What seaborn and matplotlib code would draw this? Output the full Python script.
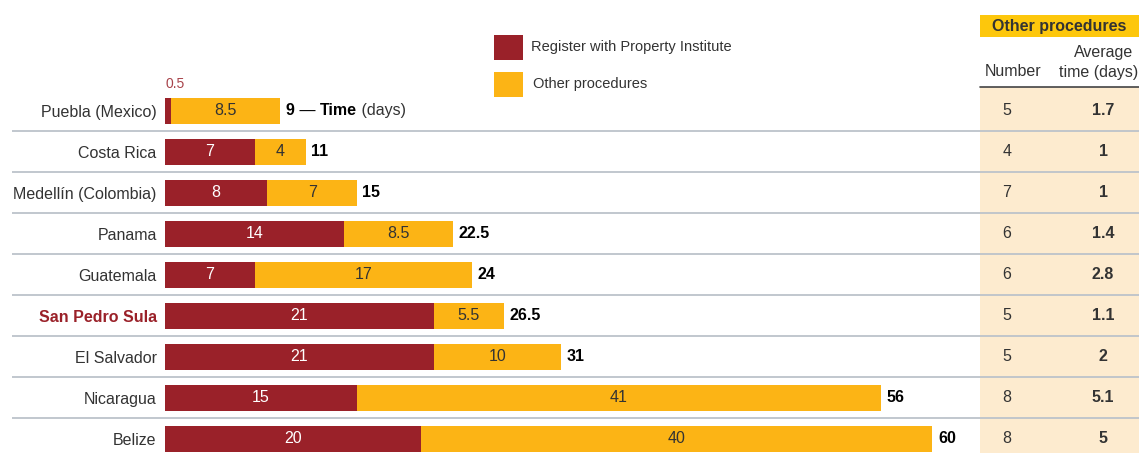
import pandas as pd
import seaborn as sns
import matplotlib.pyplot as plt
from matplotlib.patches import Rectangle

# Data
countries = ['Puebla (Mexico)', 'Costa Rica', 'Medellín (Colombia)', 'Panama', 'Guatemala',
             'San Pedro Sula', 'El Salvador', 'Nicaragua', 'Belize']
register_days = [0.5, 7, 8, 14, 7, 21, 21, 15, 20]
other_days = [8.5, 4, 7, 8.5, 17, 5.5, 10, 41, 40]
total_labels = ['9', '11', '15', '22.5', '24', '26.5', '31', '56', '60']
other_number = ['5', '4', '7', '6', '6', '5', '5', '8', '8']
other_avg_time = ['1.7', '1', '1', '1.4', '2.8', '1.1', '2', '5.1', '5']

RED = '#9a2129'
YELLOW = '#fcb415'
PANEL = '#fdebcf'
HEAD = '#fdc70c'
LINE = '#bcc3ca'
TXT = '#333333'
FS = 11.5

df = pd.DataFrame({'country': countries, 'register': register_days, 'other': other_days})
df['total'] = df['register'] + df['other']

sns.set_style('white')
plt.rcParams['font.family'] = ['Liberation Sans', 'DejaVu Sans']

W, H = 1139, 453
fig = plt.figure(figsize=(W / 100, H / 100), dpi=100)

def fx(px):
    return px / W

def fy(py):
    return 1 - py / H

PX_PER_DAY = 12.79
X0 = 165
ax = fig.add_axes([fx(X0), 0, (980 - X0) / W, (H - 90) / H])
ax.patch.set_visible(False)

# stacked bars: total in yellow, register in red over it
sns.barplot(data=df, y='country', x='total', color=YELLOW, orient='h', width=0.63,
            saturation=1, linewidth=0, ax=ax)
sns.barplot(data=df, y='country', x='register', color=RED, orient='h', width=0.63,
            saturation=1, linewidth=0, ax=ax)

ax.set_xlim(0, (980 - X0) / PX_PER_DAY)
ax.set_ylim((H - 111) / 41, (90 - 111) / 41)
ax.set_xlabel('')
ax.set_ylabel('')
ax.set_xticks([])
ax.tick_params(axis='y', length=0, pad=6, labelsize=FS, labelcolor=TXT)
for lab in ax.get_yticklabels():
    if lab.get_text() == 'San Pedro Sula':
        lab.set_color(RED)
        lab.set_fontweight('bold')
sns.despine(ax=ax, left=True, bottom=True)

# separator lines
ax.hlines([i + 0.5 for i in range(len(countries) - 1)], (12 - X0) / 815, (W - X0) / 815,
          color=LINE, lw=1.3, transform=ax.get_yaxis_transform(), clip_on=False)

# value labels
for i, (r, o) in enumerate(zip(register_days, other_days)):
    if r >= 1:
        ax.text(r / 2, i, f'{r:g}', color='white', ha='center', va='center', fontsize=FS)
    ax.text(r + o / 2, i, f'{o:g}', color=TXT, ha='center', va='center', fontsize=FS)
    t = ax.annotate(total_labels[i], xy=(r + o, i), xytext=(4, 0), textcoords='offset points',
                    ha='left', va='center', fontsize=FS, fontweight='bold', color='black')
    if i == 0:
        t2 = ax.annotate(' — ', xy=(1, 0), xycoords=t, ha='left', va='bottom',
                         fontsize=FS, color='black')
        t3 = ax.annotate('Time', xy=(1, 0), xycoords=t2, ha='left', va='bottom',
                         fontsize=FS, fontweight='bold', color='black')
        ax.annotate(' (days)', xy=(1, 0), xycoords=t3, ha='left', va='bottom',
                    fontsize=FS, color=TXT)
ax.text(0, -0.66, '0.5', color='#a8434a', ha='left', va='center', fontsize=10)

# table panel on the right
fig.add_artist(Rectangle((fx(980), 0), fx(W) - fx(980), fy(87), facecolor=PANEL,
                         edgecolor='none', transform=fig.transFigure, zorder=-1))
fig.add_artist(Rectangle((fx(980), fy(37)), fx(W) - fx(980), fy(15) - fy(37), facecolor=HEAD,
                         edgecolor='none', transform=fig.transFigure, zorder=-1))
fig.add_artist(plt.Line2D([fx(980), fx(W)], [fy(87), fy(87)], color='#444444', lw=1.2,
                          transform=fig.transFigure))
fig.text(fx(1059), fy(26), 'Other procedures', ha='center', va='center', fontsize=FS,
         fontweight='bold', color=TXT)
fig.text(fx(1013), fy(72), 'Number', ha='center', va='center', fontsize=FS, color=TXT)
fig.text(fx(1133), fy(53), 'Average', ha='right', va='center', fontsize=FS, color=TXT)
fig.text(fx(1138), fy(72), 'time (days)', ha='right', va='center', fontsize=FS, color=TXT)

for i in range(len(countries)):
    ax.text((1007 - X0) / PX_PER_DAY, i, other_number[i], ha='center', va='center',
            fontsize=FS, color=TXT)
    ax.text((1103 - X0) / PX_PER_DAY, i, other_avg_time[i], ha='center', va='center',
            fontsize=FS, fontweight='bold', color=TXT)

# legend
fig.add_artist(Rectangle((fx(494), fy(60)), fx(29), 25 / H, facecolor=RED, edgecolor='none',
                         transform=fig.transFigure))
fig.add_artist(Rectangle((fx(494), fy(97)), fx(29), 25 / H, facecolor=YELLOW, edgecolor='none',
                         transform=fig.transFigure))
fig.text(fx(531), fy(47), 'Register with Property Institute', ha='left', va='center',
         fontsize=10.5, color=TXT)
fig.text(fx(533), fy(84), 'Other procedures', ha='left', va='center', fontsize=10.5, color=TXT)

fig.savefig('out.png', dpi=100)
